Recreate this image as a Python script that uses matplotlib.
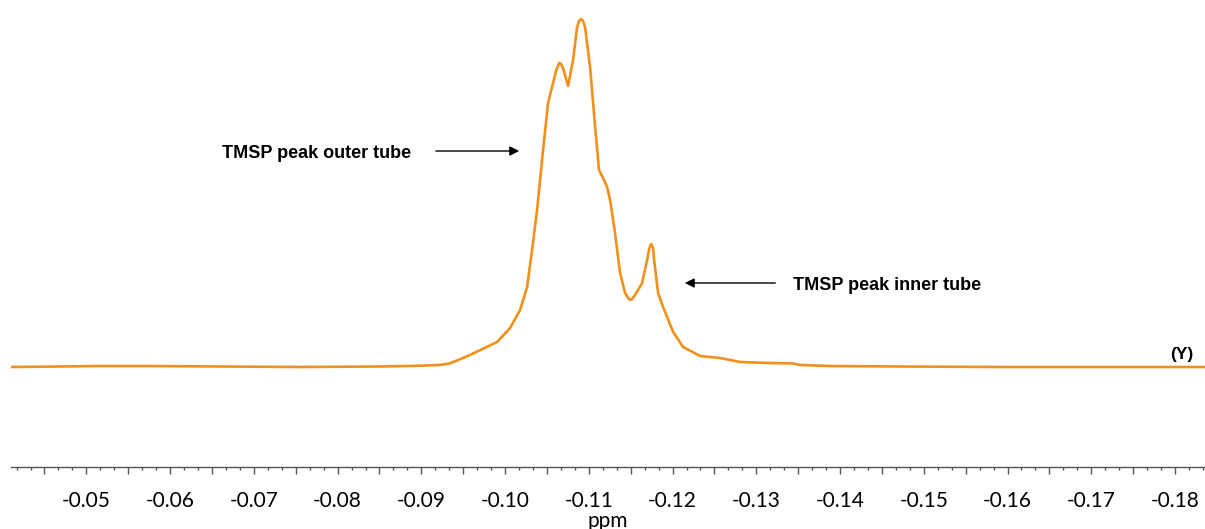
import matplotlib
matplotlib.use('Agg')
import matplotlib.pyplot as plt
from matplotlib.ticker import MultipleLocator, FuncFormatter

# spectrum (ppm, relative intensity)
ppm = [-0.0410, -0.04687, -0.05104, -0.05761, -0.06597, -0.07552, -0.08507,
       -0.08985, -0.09224, -0.09343, -0.09582, -0.09904, -0.10060, -0.10179,
       -0.10263, -0.10322, -0.10382, -0.10454, -0.10513, -0.10573, -0.10609,
       -0.10645, -0.10668, -0.10692, -0.10752, -0.10812, -0.10860, -0.10884,
       -0.10907, -0.10931, -0.10955, -0.11015,
       -0.11075, -0.11122, -0.11170, -0.11218, -0.11254, -0.11313, -0.11373,
       -0.11433, -0.11469, -0.11493, -0.11516, -0.11552, -0.11636, -0.11696,
       -0.11720, -0.11744, -0.11768, -0.11780,
       -0.11827, -0.11887, -0.12007, -0.12126, -0.12329, -0.12568, -0.12806,
       -0.13164, -0.13439, -0.13522, -0.13881, -0.14716, -0.15910, -0.18358]
intensity = [0, 0.5, 1, 1, 0.5, 0, 0.5,
             1.3, 2, 3.7, 12, 25, 39, 57,
             80, 117, 157, 217, 264, 284, 296,
             304, 303, 299, 281, 307, 340, 346,
             348, 346, 340, 300,
             240, 197, 189, 180, 167, 134, 94,
             74, 69, 67, 68, 72, 84, 107,
             118, 123, 119, 107,
             74, 60, 35, 20, 11, 9, 5,
             4, 3.5, 2, 1, 0.5, 0, 0]

outer_label = 'TMSP peak outer tube'
inner_label = 'TMSP peak inner tube'
series_label = '(Y)'

fig = plt.figure(figsize=(12.05, 5.29), dpi=100)
ax = fig.add_axes([11/1205, 62/529, 1 - 11/1205, 467/529])

ax.plot(ppm, intensity, color='#F39019', lw=1.9, solid_joinstyle='round')

ax.set_xlim(-0.0410, -0.18358)
ax.set_ylim(-100, 367)

for s in ['left', 'top', 'right']:
    ax.spines[s].set_visible(False)
ax.spines['bottom'].set_color('#555555')
ax.spines['bottom'].set_linewidth(1.0)
ax.set_yticks([])

ax.xaxis.set_major_locator(MultipleLocator(0.005))
ax.xaxis.set_minor_locator(MultipleLocator(0.01 / 6))
ax.xaxis.set_major_formatter(FuncFormatter(
    lambda v, p: ('%.2f' % v) if abs(round(v * 1000)) % 10 == 0 else ''))
ax.tick_params(axis='x', which='major', direction='out', length=5, width=1,
               color='#555555', pad=12, labelsize=15)
ax.tick_params(axis='x', which='minor', direction='out', length=2.5, width=1,
               color='#555555')
for t in ax.get_xticklabels():
    t.set_family('Lato')
ax.set_xlabel('ppm', family='Lato', fontsize=15, labelpad=0)

ax.annotate('', xy=(-0.10202, 216), xytext=(-0.09140, 216),
            arrowprops=dict(arrowstyle='-|>', color='black', lw=1,
                            mutation_scale=14))
ax.text(-0.06622, 214, outer_label, fontsize=13, fontweight='bold',
        family='Liberation Sans', va='center', ha='left')

ax.annotate('', xy=(-0.12113, 84), xytext=(-0.13260, 84),
            arrowprops=dict(arrowstyle='-|>', color='black', lw=1,
                            mutation_scale=14))
ax.text(-0.13439, 82, inner_label, fontsize=13, fontweight='bold',
        family='Liberation Sans', va='center', ha='left')

ax.text(-0.18215, 13, series_label, fontsize=12.5, fontweight='bold',
        family='Liberation Sans', va='center', ha='right')

fig.savefig('out.png', dpi=100)
